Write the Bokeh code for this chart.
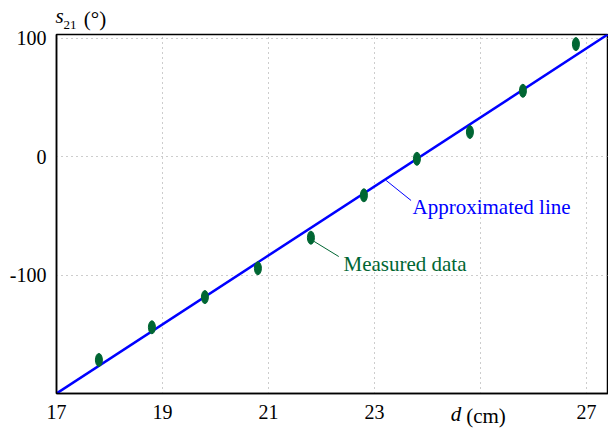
from bokeh.plotting import figure
from bokeh.models import Range1d, FixedTicker, Label, ColumnDataSource, LinearAxis
from bokeh.embed import file_html
from bokeh.resources import INLINE

# data
d_cm = [17.8, 18.8, 19.8, 20.8, 21.8, 22.8, 23.8, 24.8, 25.8, 26.8]
s21_deg = [-171.7, -144.1, -118.6, -94.3, -68.5, -32.7, -1.9, 20.7, 55.5, 94.9]
fit_x = [17.0, 27.4]
fit_y = [-200.0, 103.0]
x_ticks = [17, 19, 21, 23, 25, 27]
x_tick_labels = ["17", "19", "21", "23", "", "27"]
y_ticks = [-200, -100, 0, 100]
y_tick_labels = ["", "-100", "0", "100"]

SERIF = "Liberation Serif"
GREEN = "#006633"
BLUE = "#0000FF"

p = figure(width=608, height=432, output_backend="svg", toolbar_location=None,
           x_range=Range1d(17, 27.415), y_range=Range1d(-200, 103),
           min_border_left=56, min_border_right=0, min_border_top=34, min_border_bottom=39)
p.background_fill_color = "white"
p.border_fill_color = "white"
p.outline_line_color = "black"
p.outline_line_width = 1.5

for ax, ticks, labels in ((p.xaxis, x_ticks, x_tick_labels), (p.yaxis, y_ticks, y_tick_labels)):
    ax.ticker = FixedTicker(ticks=ticks)
    ax.major_label_overrides = {t: l for t, l in zip(ticks, labels)}
    ax.major_tick_in = 0
    ax.major_tick_out = 0
    ax.minor_tick_in = 0
    ax.minor_tick_out = 0
    ax.axis_line_color = "black"
    ax.axis_line_width = 1.5
    ax.major_label_text_font = SERIF
    ax.major_label_text_font_size = "20px"
    ax.major_label_text_color = "black"
p.xaxis.major_label_standoff = 11
p.yaxis.major_label_standoff = 10

for g in (p.xgrid, p.ygrid):
    g.grid_line_color = "#9a9a9a"
    g.grid_line_dash = "1 4"
    g.grid_line_width = 1

src = ColumnDataSource(dict(x=d_cm, y=s21_deg))
p.line(fit_x, fit_y, line_color=BLUE, line_width=2.5)
p.ellipse(x="x", y="y", width=7, height=13, width_units="screen", height_units="screen",
          source=src, fill_color=GREEN, line_color=GREEN)

# leader lines
p.line([23.22, 23.69], [-20.2, -37.1], line_color=BLUE, line_width=1)
p.line([21.855, 22.326], [-71.5, -84.4], line_color=GREEN, line_width=1)

def lab(x, y, text, size="21px", color="black"):
    p.add_layout(Label(x=x, y=y, text=text, text_font=SERIF, text_font_size=size,
                       text_color=color, text_baseline="alphabetic", text_align="left"))

lab(23.717, -42.8, "Approximated line", "21px", BLUE)
lab(22.415, -90.5, "Measured data", "21px", GREEN)

# axis titles as single-tick text axes (outside the frame)
def text_axis(side, pos, text, size, style, standoff):
    ax = LinearAxis(ticker=FixedTicker(ticks=[pos]), major_label_overrides={pos: text})
    ax.axis_line_color = None
    ax.major_tick_in = 0
    ax.major_tick_out = 0
    ax.minor_tick_in = 0
    ax.minor_tick_out = 0
    ax.major_label_text_font = SERIF
    ax.major_label_text_font_size = size
    ax.major_label_text_font_style = style
    ax.major_label_text_color = "black"
    ax.major_label_standoff = standoff
    p.add_layout(ax, side)
    return ax

# y title  s21 (°)  above the frame
text_axis("above", 17.255, "21", "13px", "normal", 6)
text_axis("above", 17.726, "(°)", "21px", "normal", -13)
text_axis("above", 17.057, "s", "21px", "italic", -24)

# x title  d (cm)  below the tick labels
text_axis("below", 24.538, "d", "21px", "italic", -20)
text_axis("below", 25.104, "(cm)", "21px", "normal", -25)

open("out.html", "w").write(file_html(p, INLINE))
